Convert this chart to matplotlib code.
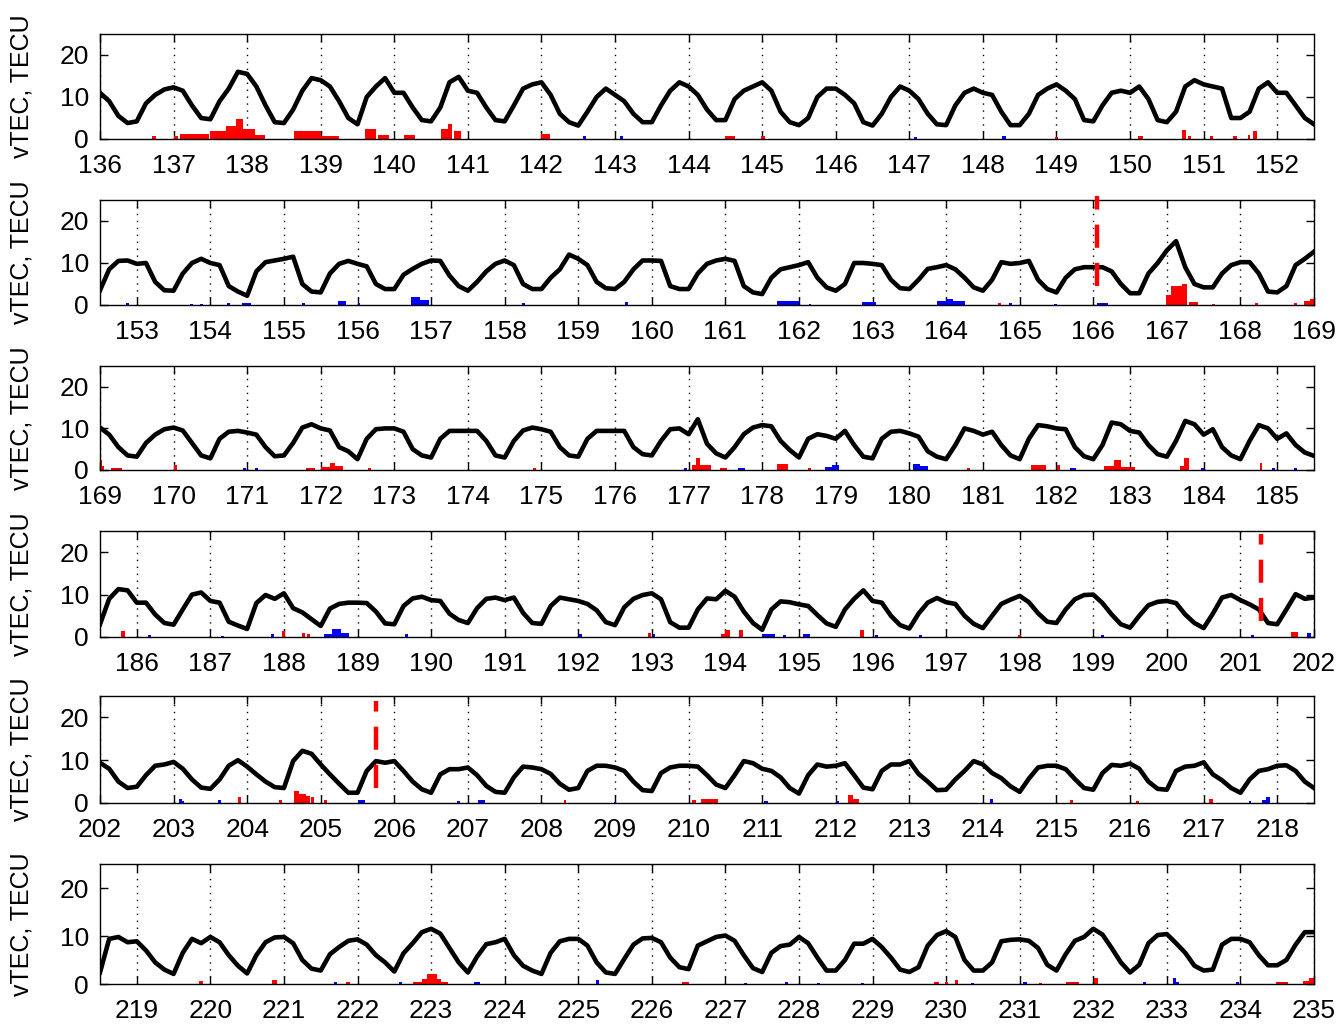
"""vTEC time series, six stacked panels of ~16.5 days each."""
import numpy as np
import matplotlib
matplotlib.use("Agg")
import matplotlib.pyplot as plt

plt.rcParams["font.family"] = ["Liberation Sans", "DejaVu Sans"]
plt.rcParams["font.size"] = 19

STEP = 0.125  # 3-hourly samples, in days

# ---- panel 1: day 136.0 .. 152.5
VTEC_136 = [
    11, 9, 5.5, 3.8, 4.2, 8.5, 10.5, 11.8,
    12.3, 11.5, 8, 5, 4.7, 9, 12, 16,
    15.5, 12.5, 8, 4, 3.8, 7, 11.5, 14.5,
    14, 12.5, 9, 5, 3.5, 10, 12.5, 14.5,
    11, 11, 7.5, 4.5, 4.2, 7.5, 13.5, 14.8,
    11.5, 11, 7.5, 4.5, 4.2, 8, 12, 13,
    13.5, 10.5, 6, 4, 3.2, 6.5, 10, 12,
    10.5, 9, 6, 4, 4, 8, 11.5, 13.5,
    12.5, 10.5, 7, 4.5, 4.5, 9.5, 11.5, 12.5,
    13.5, 11.5, 6.5, 4, 3.3, 5, 10, 12,
    12, 10.5, 8.5, 4, 3.2, 6, 10, 12.5,
    11.5, 9.5, 6, 3.5, 3.3, 8, 11, 12,
    11, 10.5, 6.5, 3.3, 3.3, 6, 10.5, 12,
    13, 11.5, 9.5, 4.5, 4.2, 8, 11, 11.5,
    11, 12.5, 9.5, 4.5, 4, 6.5, 12.5, 14,
    13, 12.5, 12, 5, 5, 6.5, 12, 13.5,
    11, 11, 8, 5, 3.5,
]
RED_136 = [
    (136.71, 136.76, 0.8), (137.0, 137.06, 0.6), (137.09, 137.48, 1.2),
    (137.5, 137.71, 1.8), (137.71, 137.85, 3.2), (137.85, 137.95, 4.8),
    (137.95, 138.1, 2.5), (138.1, 138.24, 1.0), (138.63, 139.01, 1.8),
    (139.01, 139.25, 0.8), (139.6, 139.75, 2.5), (139.78, 139.93, 1.0),
    (140.13, 140.28, 1.0), (140.64, 140.73, 2.5), (140.73, 140.78, 3.5),
    (140.81, 140.9, 2.0), (142.0, 142.11, 1.3), (144.49, 144.63, 0.8),
    (144.98, 145.04, 0.8), (148.98, 149.02, 0.5), (150.11, 150.17, 0.6),
    (150.7, 150.76, 2.2), (150.79, 150.83, 0.8), (151.08, 151.13, 0.6),
    (151.4, 151.46, 0.6), (151.6, 151.63, 1.0), (151.67, 151.73, 2.0),
]
BLUE_136 = [
    (142.57, 142.61, 0.6), (143.07, 143.11, 0.6), (147.07, 147.1, 0.4),
    (148.26, 148.32, 0.7),
]

# ---- panel 2: day 152.5 .. 169.0
VTEC_152 = [
    3.5, 8.5, 10.5, 10.6,
    9.8, 10, 5.5, 3.5, 3.4, 7.5, 10, 11,
    10, 9.5, 4.5, 3.2, 2.2, 8, 10.2, 10.6,
    11, 11.5, 5, 3.2, 3, 7.5, 9.8, 10.5,
    9.8, 9.2, 5, 3.8, 3.8, 7.2, 8.6, 9.8,
    10.6, 10.5, 7, 4.5, 3.4, 5.5, 8, 9.8,
    10.6, 9.5, 5, 3.8, 3.8, 6.5, 8.5, 12,
    11, 9.5, 5.5, 4, 3.8, 5.5, 8.5, 10.6,
    10.6, 10.5, 4.5, 3.8, 3.8, 7.5, 9.8, 10.6,
    11, 10.5, 4.5, 3, 2.6, 6.5, 8.5, 9,
    9.5, 10.2, 6.5, 4.2, 3.4, 5, 10, 10,
    9.8, 9.5, 6, 4, 3.8, 6, 8.6, 9,
    9.5, 8.5, 6.5, 4.2, 3.4, 6, 10.2, 9.8,
    10, 10.5, 6, 3.8, 3, 6.5, 8.5, 9,
    9, 9, 8, 5, 2.8, 2.8, 7.5, 10,
    13, 15.2, 9, 5, 4.2, 4.2, 7.5, 9.5,
    10.2, 10.2, 7.5, 3.2, 3, 4.5, 9.5, 11,
    12.7,
]
RED_152 = [
    (164.7, 164.74, 0.4), (166.99, 167.06, 2.5), (167.06, 167.2, 4.5),
    (167.2, 167.28, 5.0), (167.3, 167.43, 0.6), (167.62, 167.66, 0.3),
    (168.2, 168.24, 0.4), (168.73, 168.77, 0.4), (168.87, 168.94, 1.0),
    (168.94, 169.0, 1.5),
]
BLUE_152 = [
    (152.85, 152.89, 0.5), (153.73, 153.77, 0.3), (153.86, 153.9, 0.3),
    (154.23, 154.27, 0.4), (154.43, 154.55, 0.5), (155.24, 155.28, 0.4),
    (155.73, 155.85, 1.0), (156.0, 156.04, 0.5), (156.73, 156.85, 1.8),
    (156.85, 156.97, 1.2), (158.24, 158.28, 0.4), (159.63, 159.67, 0.8),
    (161.7, 162.0, 1.0), (162.13, 162.17, 0.3), (162.86, 163.05, 0.8),
    (163.87, 164.0, 1.0), (164.0, 164.1, 1.5), (164.1, 164.25, 1.0),
    (164.85, 164.89, 0.4), (165.47, 165.51, 0.3), (166.05, 166.2, 0.4),
]
MARK_152 = (166.05, 4.6, 26.0)

# ---- panel 3: day 169.0 .. 185.5
VTEC_169 = [
    10.2, 8.5, 5.5, 3.5, 3.2, 6.5, 8.5, 9.8,
    10.2, 9.5, 6.5, 3.5, 2.8, 7.5, 9.2, 9.4,
    9, 8.5, 5.5, 3.3, 3.5, 6.5, 10.2, 11,
    10, 9.5, 5.5, 4.5, 2.6, 7.5, 9.8, 10,
    10, 9.2, 5, 3.5, 3, 7.5, 9.4, 9.4,
    9.4, 9.4, 7, 3.5, 3, 7, 9.5, 10.2,
    9.8, 9.2, 5.5, 3.5, 3.2, 7.5, 9.4, 9.4,
    9.4, 9.4, 5.5, 3.8, 3.5, 7, 9.8, 10,
    8.6, 12.2, 6.3, 4, 3, 5.5, 8.6, 10.2,
    10.8, 10.5, 7, 4.8, 3, 7.5, 8.6, 8.2,
    7.5, 9.4, 6, 3.2, 2.8, 7.5, 9.2, 9.4,
    8.8, 8, 4.5, 3.2, 2.6, 6, 10, 9.4,
    8.5, 9.2, 6, 3.5, 2.6, 7.5, 10.8, 10.5,
    10, 9.8, 5.5, 3.3, 2.6, 6, 11.4, 11,
    9.4, 9, 6, 3.8, 3.2, 7, 11.8, 11,
    8.5, 9.8, 5.5, 3.5, 2.6, 7, 10.8, 10,
    7.5, 8.8, 6, 4.2, 3.4,
]
RED_169 = [
    (169.0, 169.03, 2.5), (169.03, 169.06, 1.0), (169.15, 169.3, 0.6),
    (170.0, 170.05, 1.2), (171.8, 171.92, 0.6), (172.0, 172.12, 0.8),
    (172.12, 172.2, 1.8), (172.2, 172.3, 0.9), (172.64, 172.68, 0.6),
    (174.88, 174.92, 0.5), (177.05, 177.1, 1.2), (177.1, 177.16, 2.8),
    (177.16, 177.3, 1.2), (177.43, 177.52, 0.5), (178.2, 178.35, 1.5),
    (178.62, 178.66, 0.6), (180.78, 180.82, 0.5), (181.65, 181.86, 1.2),
    (182.01, 182.05, 1.3), (182.65, 182.78, 0.9), (182.78, 182.88, 2.3),
    (182.88, 183.07, 0.7), (183.68, 183.73, 1.0), (183.73, 183.8, 2.8),
    (184.76, 184.8, 1.6),
]
BLUE_169 = [
    (170.94, 170.98, 0.6), (171.11, 171.15, 0.4), (176.94, 176.98, 0.5),
    (177.67, 177.76, 0.6), (178.85, 178.95, 0.8), (178.95, 179.05, 1.2),
    (180.05, 180.15, 1.5), (180.15, 180.26, 1.0), (182.18, 182.27, 0.5),
    (183.96, 184.0, 0.4), (184.93, 184.97, 0.5), (185.23, 185.27, 0.6),
]

# ---- panel 4: day 185.5 .. 202.0
VTEC_185 = [
    3, 9, 11.3, 11,
    8.1, 8.1, 5.3, 3.3, 2.9, 6.5, 10, 10.5,
    8.5, 8.1, 3.6, 2.7, 1.9, 8, 9.9, 9,
    10.3, 6.8, 5.8, 4.2, 2.6, 6.7, 7.8, 8.1,
    8.1, 8, 6, 3.2, 3, 7.3, 9.1, 9.5,
    8.7, 8.5, 5.5, 4, 3.3, 6.8, 9, 9.3,
    8.7, 9.3, 5.7, 3.3, 3.1, 7.3, 9.3, 8.9,
    8.5, 7.8, 6.3, 3.5, 2.8, 7, 9, 9.9,
    10.3, 8.9, 3.5, 2.2, 2.2, 6.5, 9.1, 8.9,
    10.9, 9.5, 6, 3.3, 1.7, 6.5, 8.4, 8.2,
    7.7, 7.3, 5.2, 3.2, 2.4, 6.5, 9, 11,
    8.5, 8.1, 5, 2.8, 2, 5.5, 8.1, 9.2,
    8.2, 7.8, 5, 3.1, 2.1, 5, 7.8, 8.8,
    9.7, 8.2, 5.6, 3.6, 3.3, 6.5, 8.9, 9.9,
    10, 8, 5.3, 3, 2.2, 5, 7.5, 8.3,
    8.5, 8, 5.3, 3.3, 2.1, 5.5, 9.3, 9.9,
    8.7, 7.7, 6.5, 3.3, 3, 6.5, 10.1, 9,
    9.3,
]
RED_185 = [
    (185.79, 185.84, 1.3), (187.97, 188.01, 1.3), (188.24, 188.28, 1.0),
    (188.31, 188.35, 0.6), (192.95, 192.99, 1.0), (193.94, 194.0, 0.8),
    (194.0, 194.06, 1.6), (194.18, 194.24, 1.6), (195.83, 195.89, 1.6),
    (197.98, 198.02, 0.5), (201.69, 201.78, 1.2),
]
BLUE_185 = [
    (186.15, 186.19, 0.4), (187.15, 187.19, 0.3), (187.83, 187.87, 0.6),
    (188.55, 188.65, 0.8), (188.65, 188.78, 1.8), (188.78, 188.88, 1.0),
    (189.65, 189.69, 0.6), (192.01, 192.05, 0.6), (193.01, 193.05, 0.6),
    (194.5, 194.68, 0.7), (194.78, 194.82, 0.4), (195.06, 195.15, 0.8),
    (196.04, 196.08, 0.5), (196.63, 196.67, 0.5), (199.11, 199.15, 0.5),
    (201.14, 201.18, 0.4), (201.9, 201.96, 1.0),
]
MARK_185 = (201.28, 3.7, 24.4)

# ---- panel 5: day 202.0 .. 218.5
VTEC_202 = [
    9.4, 8, 5, 3.5, 3.8, 6.5, 8.7, 9,
    9.6, 8, 5.5, 3.6, 3.3, 5.5, 8.7, 10,
    8.5, 6.7, 5, 3.7, 3.5, 9.8, 12.2, 11.5,
    9, 6.7, 4.5, 2.4, 2.4, 7.5, 9.8, 9.4,
    9.8, 7.5, 5, 3.2, 2.4, 6.7, 7.9, 7.9,
    8.3, 6.5, 4, 2.6, 2.4, 6, 8.5, 8.3,
    7.9, 6.8, 4.5, 3.1, 3.5, 7.5, 8.7, 8.7,
    8.3, 7.5, 5, 3, 2.8, 7, 8.3, 8.7,
    8.7, 8.5, 6.5, 4.3, 3.5, 6.5, 9.8, 9.3,
    8, 7.5, 6, 3.5, 2.2, 6.5, 9, 8.5,
    8.7, 9.3, 6.5, 3.6, 3.2, 7.5, 9, 9,
    9.8, 6.8, 5, 3, 3.1, 5.5, 7.5, 9.8,
    9, 7, 5.8, 3.9, 2.6, 5.7, 8.3, 8.7,
    8.7, 7.9, 5.6, 3.5, 3.1, 7, 8.9, 8.7,
    9.2, 8, 5, 3.3, 3.1, 7.5, 8.5, 8.7,
    9.5, 6.7, 5.3, 3.5, 2.4, 5.5, 7.5, 7.9,
    8.7, 8.8, 7.5, 5, 3.5,
]
RED_202 = [
    (203.87, 203.91, 1.3), (204.43, 204.47, 0.8), (204.63, 204.7, 2.8),
    (204.7, 204.8, 2.2), (204.8, 204.86, 1.6), (204.87, 204.91, 1.5),
    (205.05, 205.09, 0.6), (208.3, 208.34, 0.6), (210.05, 210.1, 0.6),
    (210.17, 210.4, 1.0), (212.17, 212.24, 1.8), (212.24, 212.32, 1.0),
    (215.18, 215.22, 0.8), (216.08, 216.12, 0.5), (217.07, 217.13, 1.0),
]
BLUE_202 = [
    (203.08, 203.11, 1.0), (203.11, 203.14, 0.5), (203.6, 203.64, 0.6),
    (205.5, 205.6, 0.6), (206.85, 206.89, 0.5), (207.14, 207.23, 0.7),
    (208.98, 209.01, 0.3), (211.02, 211.08, 0.5), (212.0, 212.04, 0.5),
    (214.1, 214.14, 0.9), (217.61, 217.65, 0.5), (217.8, 217.85, 0.8),
    (217.85, 217.9, 1.5),
]
MARK_202 = (205.75, 3.5, 23.9)

# ---- panel 6: day 218.5 .. 235.0
VTEC_218 = [
    2.4, 9.4, 9.8, 8.7,
    8.9, 7, 4.5, 3, 2.1, 6.5, 9.4, 8.5,
    9.8, 8.7, 6, 3.8, 2.2, 6, 8.7, 9.7,
    9.8, 8.5, 5, 3.2, 2.8, 6.2, 7.7, 9,
    9.3, 8.2, 6, 4.5, 2.6, 6.4, 8.5, 10.8,
    11.5, 10.5, 7.5, 4.5, 2.4, 5.7, 8.3, 8.7,
    9.4, 6, 3.8, 2.8, 2.1, 6.5, 8.9, 9.4,
    9.4, 8, 4.5, 2.4, 2.1, 5.2, 8.2, 9.5,
    9.6, 8.7, 5.5, 3.5, 3.1, 8, 8.9, 9.8,
    10.1, 9, 6, 3.3, 2.5, 6.5, 7.9, 8.2,
    9.8, 8.5, 5.5, 2.8, 2.8, 5, 8.4, 8.4,
    9.4, 7.7, 5.5, 3, 2.5, 3.5, 8, 10.2,
    11, 9.8, 5, 2.8, 2.8, 4.5, 8.9, 9.2,
    9.3, 9, 7.5, 4, 2.8, 6.2, 9, 9.8,
    11.5, 10.3, 7.5, 4.5, 2.4, 4, 8.5, 10.2,
    10.4, 8.5, 6.5, 3.8, 2.8, 3, 8.2, 9.4,
    9.4, 8.7, 6, 3.9, 3.9, 5, 8.2, 10.8,
    10.8,
]
RED_218 = [
    (219.84, 219.9, 0.7), (220.84, 220.9, 0.8), (221.85, 221.9, 0.4),
    (222.76, 222.88, 0.4), (222.88, 222.94, 1.0), (222.94, 223.08, 2.1),
    (223.08, 223.14, 1.0), (223.14, 223.23, 0.4), (226.41, 226.5, 0.5),
    (229.83, 229.9, 0.4), (229.99, 230.03, 0.4), (230.12, 230.16, 0.8),
    (231.26, 231.3, 0.3), (231.63, 231.81, 0.4), (232.01, 232.07, 1.2),
    (234.49, 234.64, 0.4), (234.85, 234.93, 0.6), (234.93, 235.0, 1.2),
]
BLUE_218 = [
    (221.68, 221.72, 0.4), (222.56, 222.6, 0.4), (223.58, 223.67, 0.5),
    (225.24, 225.28, 0.9), (227.25, 227.29, 0.3), (227.81, 227.85, 0.4),
    (228.25, 228.29, 0.3), (228.84, 228.88, 0.3), (230.34, 230.38, 0.3),
    (231.04, 231.1, 0.4), (232.67, 232.71, 0.4), (233.08, 233.12, 1.2),
    (233.12, 233.17, 0.5), (233.94, 233.98, 0.4),
]

PANELS = [
    (136.0, 152.5, VTEC_136, RED_136, BLUE_136, None),
    (152.5, 169.0, VTEC_152, RED_152, BLUE_152, MARK_152),
    (169.0, 185.5, VTEC_169, RED_169, BLUE_169, None),
    (185.5, 202.0, VTEC_185, RED_185, BLUE_185, MARK_185),
    (202.0, 218.5, VTEC_202, RED_202, BLUE_202, MARK_202),
    (218.5, 235.0, VTEC_218, RED_218, BLUE_218, None),
]

# axes boxes in pixels (top, bottom) on a 1338x1026 canvas
W, H = 1338, 1026
LEFT, RIGHT = 100, 1314
ROWS = [(34, 139), (200, 305), (366, 470), (531, 637), (696, 803), (864, 984)]


def draw_bars(ax, spans, color):
    if not spans:
        return
    s = np.array(spans)
    ax.bar(s[:, 0], s[:, 2], width=s[:, 1] - s[:, 0], align="edge",
           color=color, linewidth=0, zorder=2)


def main():
    fig = plt.figure(figsize=(W / 100, H / 100), dpi=100, facecolor="white")
    for (x0, x1, vtec, red, blue, mark), (top, bot) in zip(PANELS, ROWS):
        ax = fig.add_axes([LEFT / W, 1 - bot / H, (RIGHT - LEFT) / W, (bot - top) / H])
        t = x0 + STEP * np.arange(len(vtec))

        draw_bars(ax, red, "#ff0000")
        draw_bars(ax, blue, "#0000ff")
        ax.plot(t, vtec, color="black", lw=3.3, zorder=3,
                solid_joinstyle="round")
        if mark is not None:
            xm, ylo, yhi = mark
            ax.plot([xm, xm], [ylo, yhi], color="#ff0000", lw=3.2,
                    linestyle=(0, (5.2, 3.4)), zorder=4, clip_on=False)

        days = np.arange(int(np.ceil(x0)), int(np.floor(x1)) + 1)
        ax.set_xlim(x0, x1)
        ax.set_ylim(0, 25)
        ax.set_xticks(days)
        ax.set_xticklabels([str(d) for d in days])
        ax.set_yticks([0, 10, 20])
        ax.tick_params(axis="both", direction="in", length=6, width=1,
                       top=True, right=True, labelsize=19)
        ax.tick_params(axis="x", pad=11)
        ax.tick_params(axis="y", pad=8)
        ax.grid(axis="x", color="black", lw=1.0, linestyle=(0, (1, 4)))
        for sp in ax.spines.values():
            sp.set_linewidth(1.0)
            sp.set_color("black")

        fig.text(22 / W, 1 - (top + bot) / 2 / H, "vTEC, TECU", rotation=90,
                 ha="center", va="center", fontsize=18)

    fig.savefig("out.png", dpi=100, facecolor="white")


if __name__ == "__main__":
    main()
